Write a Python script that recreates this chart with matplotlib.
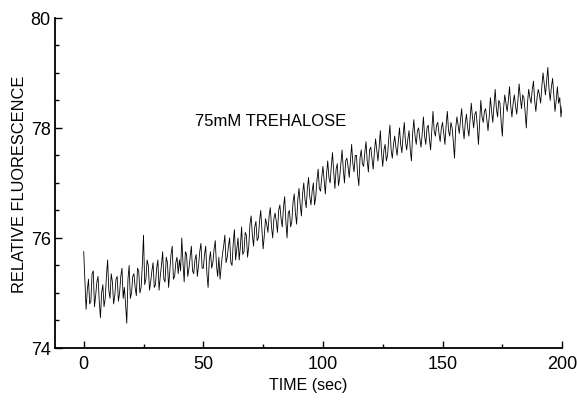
import matplotlib
matplotlib.use("Agg")
import matplotlib.pyplot as plt
from matplotlib.ticker import MultipleLocator
import numpy as np

# fluorescence values at whole seconds (t = 0..200)
fluor_whole = [
    75.75, 74.7, 75.25, 74.85, 75.4, 74.95, 75.3, 74.55, 75.15, 74.9,
    75.6, 74.9, 75.2, 74.95, 75.3, 75.0, 75.45, 75.1, 74.45, 75.5,
    75.0, 75.35, 74.95, 75.4, 75.1, 76.05, 75.25, 75.5, 75.2, 75.55,
    75.15, 75.6, 75.3, 75.75, 75.2, 75.55, 75.4, 75.85, 75.3, 75.65,
    75.6, 76.0, 75.2, 75.7, 75.45, 75.85, 75.35, 75.7, 75.5, 75.9,
    75.45, 75.85, 75.1, 75.75, 75.55, 75.95, 75.3, 75.25, 75.7, 76.05,
    75.65, 76.0, 75.5, 76.15, 75.8, 75.6, 76.2, 75.75, 76.05, 75.85,
    76.4, 75.85, 76.3, 76.0, 76.5, 75.8, 76.35, 76.1, 76.55, 76.0,
    76.45, 76.1, 76.6, 76.2, 76.75, 76.0, 76.5, 76.3, 76.8, 76.25,
    76.9, 76.4, 77.0, 76.55, 77.1, 76.6, 77.0, 76.75, 77.25, 76.85,
    77.3, 76.8, 77.4, 77.0, 77.55, 76.9, 77.35, 77.1, 77.6, 77.0,
    77.45, 77.1, 77.7, 77.2, 77.5, 76.95, 77.6, 77.3, 77.75, 77.2,
    77.65, 77.25, 77.8, 77.4, 77.95, 77.3, 77.7, 77.5, 78.05, 77.45,
    77.85, 77.5, 78.0, 77.55, 78.1, 77.6, 77.95, 77.4, 78.15, 77.7,
    78.0, 77.65, 78.2, 77.7, 78.05, 77.6, 78.3, 77.85, 78.1, 77.75,
    78.1, 77.7, 78.3, 77.85, 78.0, 77.45, 78.2, 77.9, 78.35, 77.8,
    78.25, 77.85, 78.45, 78.0, 78.3, 77.7, 78.5, 78.1, 78.35, 77.95,
    78.55, 78.1, 78.7, 78.2, 78.45, 77.85, 78.6, 78.3, 78.75, 78.2,
    78.6, 78.25, 78.8, 78.35, 78.55, 78.0, 78.7, 78.45, 78.85, 78.3,
    78.7, 78.45, 79.0, 78.6, 79.1, 78.5, 78.9, 78.3, 78.75, 78.55,
    78.4,
]
# values read at half seconds (t = 0.5..199.5)
fluor_half = [
    75.2, 75.05, 74.8, 75.35, 74.75, 75.2, 74.85, 75.0, 74.75, 75.3,
    75.05, 75.35, 74.8, 75.25, 74.85, 75.3, 74.9, 74.8, 75.25, 74.9,
    75.3, 75.1, 75.45, 75.0, 75.5, 75.15, 75.6, 75.05, 75.4, 75.1,
    75.45, 75.05, 75.5, 75.25, 75.65, 75.1, 75.7, 75.25, 75.55, 75.35,
    75.4, 75.55, 75.75, 75.3, 75.65, 75.4, 75.6, 75.3, 75.75, 75.45,
    75.7, 75.35, 75.6, 75.45, 75.8, 75.5, 75.65, 75.5, 75.85, 75.55,
    75.85, 75.55, 75.9, 75.6, 76.0, 75.85, 75.7, 76.1, 75.65, 76.25,
    76.05, 76.2, 75.95, 76.3, 76.15, 76.05, 76.25, 76.4, 76.2, 76.35,
    76.3, 76.5, 76.35, 76.55, 76.3, 76.45, 76.2, 76.65, 76.45, 76.7,
    76.6, 76.8, 76.7, 76.9, 76.75, 76.85, 76.6, 77.05, 76.9, 77.1,
    77.05, 77.15, 77.1, 77.3, 77.2, 77.25, 76.95, 77.35, 77.25, 77.4,
    77.3, 77.4, 77.35, 77.5, 77.15, 77.45, 77.35, 77.55, 77.4, 77.6,
    77.45, 77.55, 77.6, 77.65, 77.55, 77.6, 77.4, 77.8, 77.6, 77.7,
    77.65, 77.75, 77.7, 77.85, 77.75, 77.8, 77.6, 77.9, 77.85, 77.95,
    77.8, 77.9, 77.85, 78.0, 77.8, 77.95, 77.95, 78.05, 77.9, 78.0,
    77.9, 78.05, 77.95, 78.1, 77.75, 78.0, 78.05, 78.15, 78.0, 78.1,
    78.0, 78.15, 78.2, 78.25, 78.05, 78.1, 78.2, 78.3, 78.15, 78.2,
    78.3, 78.4, 78.35, 78.5, 78.1, 78.35, 78.45, 78.5, 78.4, 78.45,
    78.4, 78.5, 78.55, 78.6, 78.3, 78.45, 78.55, 78.7, 78.5, 78.55,
    78.6, 78.75, 78.8, 78.85, 78.7, 78.75, 78.6, 78.5, 78.45, 78.2,
]

x_ticks = [0, 50, 100, 150, 200]
y_ticks = [74, 76, 78, 80]
annotation = "75mM TREHALOSE"

# interleave whole- and half-second readings into one time series
t_whole = np.arange(len(fluor_whole), dtype=float)
t_half = np.arange(len(fluor_half), dtype=float) + 0.5
time = np.concatenate([t_whole, t_half])
values = np.concatenate([fluor_whole, fluor_half])
order = np.argsort(time)
time, values = time[order], values[order]

plt.rcParams['font.family'] = ['Liberation Sans', 'DejaVu Sans']

fig = plt.figure(figsize=(5.77, 4.02), dpi=100)
ax = fig.add_axes([0.0953, 0.132, 0.879, 0.821])
ax.plot(time, values, color='black', linewidth=0.6)

ax.set_xlim(-12, 200)
ax.set_ylim(74, 80)
ax.set_xticks(x_ticks)
ax.set_yticks(y_ticks)
ax.xaxis.set_minor_locator(MultipleLocator(25))
ax.yaxis.set_minor_locator(MultipleLocator(0.5))
ax.tick_params(axis='both', which='major', direction='in', length=5, width=1.0,
               labelsize=13, colors='black')
ax.tick_params(axis='both', which='minor', direction='in', length=3, width=1.0)
ax.tick_params(axis='x', which='major', pad=5)
ax.tick_params(axis='y', which='major', pad=3)
for s in ['top', 'right']:
    ax.spines[s].set_visible(False)
for s in ['left', 'bottom']:
    ax.spines[s].set_linewidth(1.3)

ax.set_xlabel("TIME (sec)", fontsize=11.5, labelpad=4)
ax.set_ylabel("RELATIVE FLUORESCENCE", fontsize=11.8, labelpad=3)
ax.text(46.5, 78.13, annotation, fontsize=12, va='center', ha='left')

fig.savefig("out.png", dpi=100)
